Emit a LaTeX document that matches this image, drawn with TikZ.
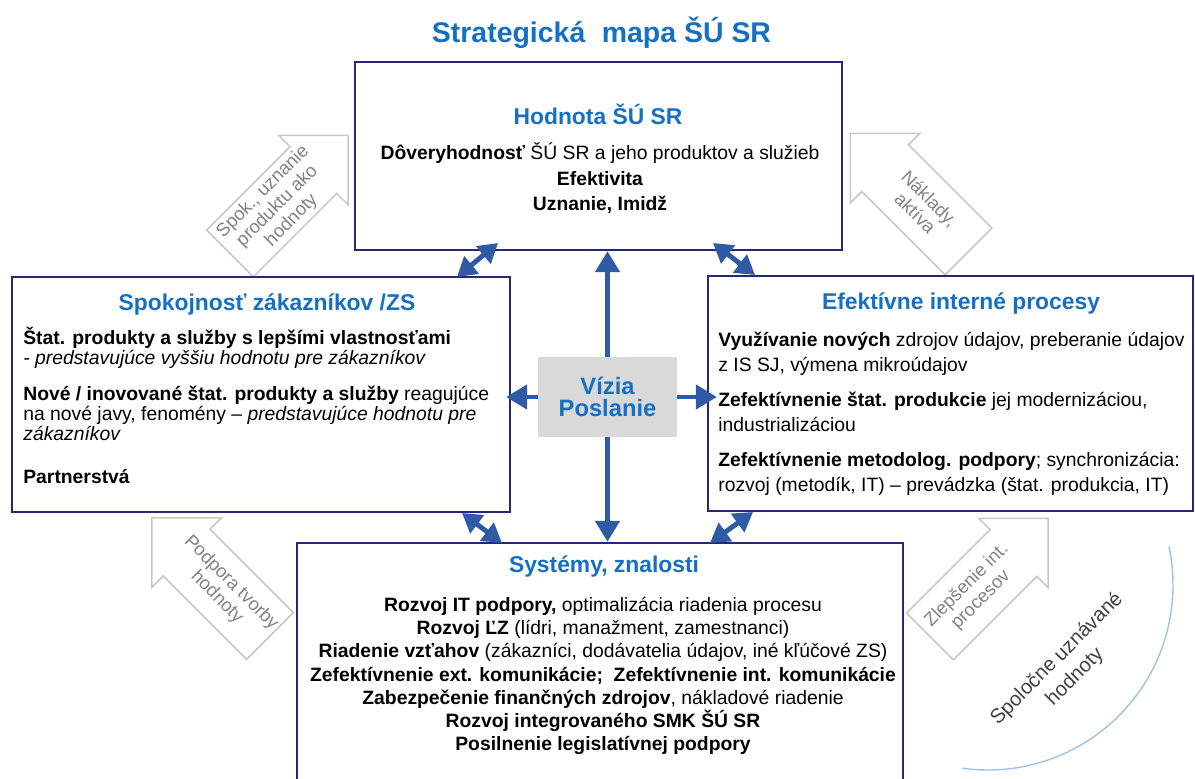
\documentclass[tikz,border=0pt]{standalone}
\usepackage{fontspec}
\setmainfont{Liberation Sans}
\usetikzlibrary{arrows.meta}
\definecolor{ramcekmodra}{RGB}{38,38,122}
\definecolor{sipkamodra}{RGB}{47,90,165}
\definecolor{nadpismodra}{RGB}{21,112,196}
\definecolor{sedaciara}{RGB}{200,200,200}
\definecolor{sedytext}{RGB}{130,130,130}
\definecolor{tmavosedy}{RGB}{64,64,64}
\definecolor{oblukmodra}{RGB}{157,195,230}
\definecolor{viziasiva}{RGB}{217,217,217}

\begin{document}
\begin{tikzpicture}[x=0.02cm, y=-0.02cm, % suradnice v pixeloch
  ramcek/.style={draw=ramcekmodra, line width=1.4pt, fill=white, inner sep=0pt},
  nadpis/.style={text=nadpismodra, font=\bfseries\fontsize{13}{15}\selectfont, anchor=base, inner sep=0pt},
  sipka/.style={draw=sipkamodra, line width=2.8pt, -{Triangle[length=0.42cm,width=0.48cm]}},
  obojsipka/.style={draw=sipkamodra, line width=2.8pt, {Triangle[length=0.38cm,width=0.44cm]}-{Triangle[length=0.38cm,width=0.44cm]}},
  blokova/.style={draw=sedaciara, line width=0.9pt, fill=white, line join=miter},
  sedypopis/.style={text=sedytext, font=\fontsize{10.5}{11.5}\selectfont, align=center, inner sep=0pt}]
\useasboundingbox (0,0) rectangle (1195,778);
\clip (0,0) rectangle (1195,778);

% sede blokove sipky
\begin{scope}[shift={(230,253.5)}, rotate=45]
\draw[blokova] (0,-33) -- (118,-33) -- (118,-49) -- (167,0) -- (118,49) -- (118,33) -- (0,33) -- cycle;
\node[sedypopis, rotate=45] (spok) at (67,0) {Spok., uznanie\\produktu ako\\hodnoty};
\end{scope}
\begin{scope}[shift={(968.5,251.5)}, rotate=135]
\draw[blokova] (0,-33) -- (118,-33) -- (118,-49) -- (167,0) -- (118,49) -- (118,33) -- (0,33) -- cycle;
\node[sedypopis, rotate=-45] (naklady) at (65,0) {Náklady,\\aktíva};
\end{scope}
\begin{scope}[shift={(270,636)}, rotate=135]
\draw[blokova] (0,-33) -- (118,-33) -- (118,-49) -- (167,0) -- (118,49) -- (118,33) -- (0,33) -- cycle;
\node[sedypopis, rotate=-45] (podpora) at (65,0) {Podpora tvorby\\hodnoty};
\end{scope}
\begin{scope}[shift={(930,636.5)}, rotate=45]
\draw[blokova] (0,-33) -- (118,-33) -- (118,-49) -- (167,0) -- (118,49) -- (118,33) -- (0,33) -- cycle;
\node[sedypopis, rotate=45] (zlepsenie) at (62,0) {Zlepšenie int.\\procesov};
\end{scope}

% obluk vpravo dole
\draw[oblukmodra, line width=0.8pt] plot[domain=-12:98, samples=60] ({988+185*cos(\x)},{585+185*sin(\x)});
\node[rotate=45, text=tmavosedy, font=\fontsize{11.5}{14.5}\selectfont, align=center, inner sep=0pt] (spolocne) at (1066,668) {Spoločne uznávané\\hodnoty};

% ramceky
\node[ramcek, minimum width=9.74cm, minimum height=3.76cm] (hodnota) at (598.5,156) {};
\node[ramcek, minimum width=9.96cm, minimum height=4.70cm] (zakaznici) at (261,394.5) {};
\node[ramcek, minimum width=9.70cm, minimum height=4.70cm] (procesy) at (950.5,393.5) {};
\node[ramcek, minimum width=12.12cm, minimum height=4.94cm] (systemy) at (600,666.5) {};
\node[fill=viziasiva, minimum width=2.78cm, minimum height=1.60cm, inner sep=0pt, align=center,
  text=nadpismodra, font=\bfseries\fontsize{13.5}{12.7}\selectfont] (vizia) at (607.5,397) {Vízia\\Poslanie};

% nadpisy
\node[nadpis, font=\bfseries\fontsize{16.2}{18}\selectfont] (mapa) at (601.5,42) {Strategická\hspace{0.3em} mapa ŠÚ SR};
\node[nadpis] (hodnotaNadpis) at (598,124) {Hodnota ŠÚ SR};
\node[nadpis] (zakazniciNadpis) at (267,310) {Spokojnosť zákazníkov /ZS};
\node[nadpis] (procesyNadpis) at (961,309) {Efektívne interné procesy};
\node[nadpis] (systemyNadpis) at (604,572) {Systémy, znalosti};

% texty v ramcekoch
\node[anchor=north, align=center, inner sep=0pt, font=\fontsize{11}{14.7}\selectfont] (hodnotaText) at (600,142)
  {\textbf{Dôveryhodnosť} ŠÚ SR a jeho produktov a služieb\\ \textbf{Efektivita}\\ \textbf{Uznanie, Imidž}};
\node[anchor=north west, align=left, inner sep=0pt, font=\fontsize{11}{11.3}\selectfont] (zakazniciText) at (23,327)
  {\textbf{Štat. produkty a služby s lepšími vlastnosťami}\\
   \textit{- predstavujúce vyššiu hodnotu pre zákazníkov}\\[0.33cm]
   \textbf{Nové / inovované štat. produkty a služby} reagujúce\\
   na nové javy, fenomény – \textit{predstavujúce hodnotu pre}\\
   \textit{zákazníkov}\\[0.47cm]
   \textbf{Partnerstvá}};
\node[anchor=north west, align=left, inner sep=0pt, font=\fontsize{11}{14.2}\selectfont] (procesyText) at (718,332)
  {\textbf{Využívanie nových} zdrojov údajov, preberanie údajov\\
   z IS SJ, výmena mikroúdajov\\[0.2cm]
   \textbf{Zefektívnenie štat. produkcie} jej modernizáciou,\\
   industrializáciou\\[0.2cm]
   \textbf{Zefektívnenie metodolog. podpory}; synchronizácia:\\
   rozvoj (metodík, IT) – prevádzka (štat. produkcia, IT)};
\node[anchor=north, align=center, inner sep=0pt, font=\fontsize{11}{13.2}\selectfont] (systemyText) at (603,597)
  {\textbf{Rozvoj IT podpory,} optimalizácia riadenia procesu\\
   \textbf{Rozvoj ĽZ} (lídri, manažment, zamestnanci)\\
   \textbf{Riadenie vzťahov} (zákazníci, dodávatelia údajov, iné kľúčové ZS)\\
   \textbf{Zefektívnenie ext. komunikácie;\ \ Zefektívnenie int. komunikácie}\\
   \textbf{Zabezpečenie finančných zdrojov}, nákladové riadenie\\
   \textbf{Rozvoj integrovaného SMK ŠÚ SR}\\
   \textbf{Posilnenie legislatívnej podpory}};

% sipky z vizie
\draw[sipka] (vizia.north) -- (vizia.north |- hodnota.south);
\draw[sipka] (vizia.south) -- (vizia.south |- systemy.north);
\draw[sipka, shorten >=-0.1cm] (vizia.west) -- (vizia.west -| zakaznici.east);
\draw[sipka, shorten >=-0.2cm] (vizia.east) -- (vizia.east -| procesy.west);

% obojstranne sipky medzi ramcekmi
\coordinate (zh1) at (457,277);
\coordinate (zh2) at (498,243);
\coordinate (ph1) at (755,275);
\coordinate (ph2) at (713,243);
\coordinate (zs1) at (462,513);
\coordinate (zs2) at (502,543);
\coordinate (ps1) at (753,512);
\coordinate (ps2) at (710,543);
\draw[obojsipka] (zh1) -- (zh2);
\draw[obojsipka] (ph1) -- (ph2);
\draw[obojsipka] (zs1) -- (zs2);
\draw[obojsipka] (ps1) -- (ps2);
\end{tikzpicture}
\end{document}
